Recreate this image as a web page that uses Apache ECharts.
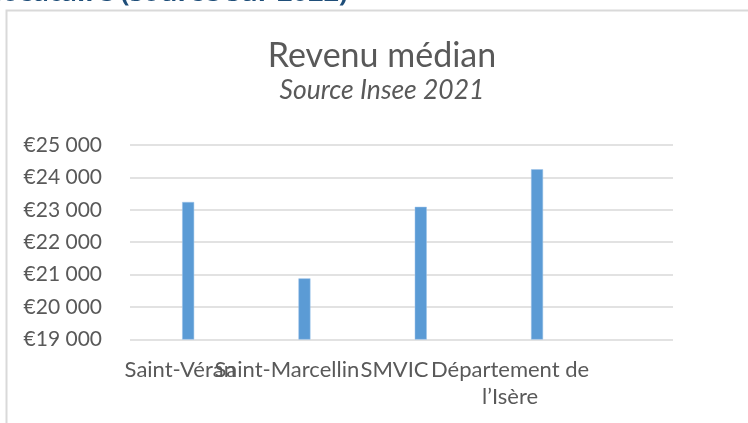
<!DOCTYPE html>
<html>
<head>
<meta charset="utf-8">
<title>Revenu médian</title>
<script src="https://cdn.jsdelivr.net/npm/echarts@6/dist/echarts.min.js"></script>
<style>
  html, body { margin: 0; padding: 0; background: #fff; }
  #chart { width: 748px; height: 423px; }
</style>
</head>
<body>
<div id="chart"></div>
<script>
const categories = ['Saint-Véran', 'Saint-Marcellin', 'SMVIC', 'Département de l’Isère']
const revenuMedian = [23240, 20880, 23090, 24250]
const yMin = 19000
const yMax = 25000
const yStep = 1000

const font = 'Lato'
const grey = '#595959'

// small nudges so the labels sit like in the original (Calibri is narrower)
const labelPadding = {
  'Saint-Véran': [0, 8, 0, 0],
  'Saint-Marcellin': [0, 12, 0, 0],
  'SMVIC': [0, 14, 0, 0]
}

function euro(v) {
  return '€' + String(v).replace(/\B(?=(\d{3})+(?!\d))/g, ' ')
}

const chart = echarts.init(document.getElementById('chart'))

const labelData = categories.concat(['']).map(c => ({
  value: c,
  textStyle: { padding: labelPadding[c] || 0 }
}))

chart.setOption({
  animation: false,
  textStyle: { fontFamily: font },
  title: [
    {
      text: 'Revenu médian',
      left: 382,
      top: 39,
      textAlign: 'center',
      padding: 0,
      textStyle: { fontFamily: font, fontSize: 34, fontWeight: 'normal', color: grey, lineHeight: 34 }
    },
    {
      text: 'Source Insee 2021',
      left: 382,
      top: 77,
      textAlign: 'center',
      padding: 0,
      textStyle: { fontFamily: font, fontSize: 26.5, fontStyle: 'italic', fontWeight: 'normal', color: grey, lineHeight: 26.5 }
    }
  ],
  graphic: [
    {
      type: 'rect',
      shape: { x: 6.5, y: 10.5, width: 760, height: 430 },
      style: { fill: 'none', stroke: '#d9d9d9', lineWidth: 2 },
      silent: true
    },
    {
      // heading of the page above the chart, cut off at the top
      type: 'text',
      x: 348,
      y: 7,
      style: {
        text: 'locataire (source sur 2022)',
        font: 'bold 27px "Open Sans"',
        fill: '#1f4e79',
        align: 'right',
        verticalAlign: 'bottom'
      },
      silent: true
    }
  ],
  grid: [
    // bars
    { left: 130, top: 145, width: 465.2, bottom: 83.7 },
    // gridlines and labels
    { left: 130, top: 145, right: 75, bottom: 83.7 }
  ],
  xAxis: [
    {
      type: 'category',
      gridIndex: 0,
      data: categories,
      axisLine: { show: false },
      axisTick: { show: false },
      axisLabel: { show: false }
    },
    {
      type: 'category',
      gridIndex: 1,
      data: labelData,
      axisLine: { show: false },
      axisTick: { show: false },
      axisLabel: {
        interval: 0,
        margin: 17,
        color: grey,
        fontFamily: font,
        fontSize: 22,
        lineHeight: 27,
        formatter: v => v.replace(' de ', ' de\n')
      }
    }
  ],
  yAxis: [
    {
      type: 'value',
      gridIndex: 0,
      min: yMin,
      max: yMax,
      interval: yStep,
      show: false,
      splitLine: { show: false }
    },
    {
      type: 'value',
      gridIndex: 1,
      min: yMin,
      max: yMax,
      interval: yStep,
      axisLine: { show: false },
      axisTick: { show: false },
      axisLabel: {
        margin: 28,
        color: grey,
        fontFamily: font,
        fontSize: 21,
        formatter: euro
      },
      splitLine: { lineStyle: { color: '#d9d9d9', width: 1.5 } }
    }
  ],
  series: [
    {
      name: 'Revenu médian',
      type: 'bar',
      xAxisIndex: 0,
      yAxisIndex: 0,
      barWidth: 12,
      data: revenuMedian,
      itemStyle: { color: '#5b9bd5', borderColor: '#9cc2e8', borderWidth: 0.5 }
    }
  ]
})
</script>
</body>
</html>
